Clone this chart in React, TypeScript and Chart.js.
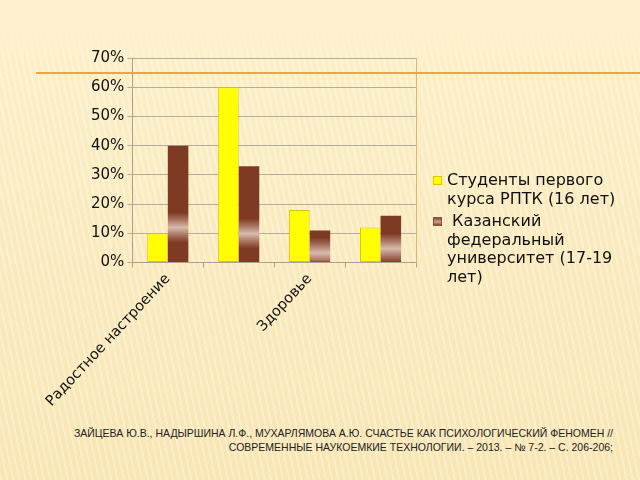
import { useEffect, useRef } from 'react'
import { Chart, registerables } from 'chart.js'

Chart.register(...registerables)

// categories: only every other label is shown on the original slide
const categories = ['Радостное настроение', '', 'Здоровье', '']
const rptkValues = [10, 60, 18, 12]
const kfuValues = [40, 33, 11, 16]
const seriesNames = ['Студенты первого курса РПТК (16 лет)', ' Казанский федеральный университет (17-19 лет)']
const legendLines = [
    ['Студенты первого', 'курса РПТК (16 лет)'],
    ['\u00a0Казанский', 'федеральный', 'университет (17-19', 'лет)'],
]
const yMax = 70
const yStep = 10
const citation = [
    'ЗАЙЦЕВА Ю.В., НАДЫРШИНА Л.Ф., МУХАРЛЯМОВА А.Ю. СЧАСТЬЕ КАК ПСИХОЛОГИЧЕСКИЙ ФЕНОМЕН //',
    'СОВРЕМЕННЫЕ НАУКОЕМКИЕ ТЕХНОЛОГИИ. – 2013. – № 7-2. – С. 206-206;',
]

const YELLOW = '#FFFF00'
const BROWN = '#7E3A23'
const FONT = 'DejaVu Sans'
const legendSwatches = [
    { fill: YELLOW, stroke: '#E2C400' },
    { fill: 'linear-gradient(to bottom, #8A4A36, #C9A293 55%, #8A4A36)', stroke: '#8A5040' },
]

// brown bars have a light band about a third of the way up
const brownFill = (ctx: any) => {
    const chart = ctx.chart
    const y = chart.scales?.y
    if (!y || ctx.type !== 'data') return BROWN
    const v = ctx.parsed ? ctx.parsed.y : ctx.raw
    const top = y.getPixelForValue(v)
    const bottom = y.getPixelForValue(0)
    const h = bottom - top
    if (!(h > 0) || !isFinite(h)) return BROWN
    const center = bottom - 0.3 * h
    const s = (p: number) => Math.min(1, Math.max(0, (p - top) / h))
    const g = chart.ctx.createLinearGradient(0, top, 0, bottom)
    g.addColorStop(0, BROWN)
    g.addColorStop(s(center - 15), BROWN)
    g.addColorStop(s(center - 7), '#AD7A68')
    g.addColorStop(s(center), '#D9BBAC')
    g.addColorStop(s(center + 7), '#AD7A68')
    g.addColorStop(s(center + 15), BROWN)
    g.addColorStop(1, BROWN)
    return g
}

const BarChart: React.FC = () => {
    const canvasRef = useRef<HTMLCanvasElement>(null)
    const chartRef = useRef<Chart | null>(null)

    useEffect(() => {
        if (!canvasRef.current) return
        if (chartRef.current) chartRef.current.destroy()

        chartRef.current = new Chart(canvasRef.current, {
            type: 'bar',
            data: {
                labels: categories,
                datasets: [
                    {
                        label: seriesNames[0],
                        data: rptkValues,
                        backgroundColor: YELLOW,
                        borderColor: '#E2C400',
                        borderWidth: 1,
                        borderSkipped: false,
                    },
                    {
                        label: seriesNames[1],
                        data: kfuValues,
                        backgroundColor: brownFill,
                        borderWidth: 0,
                    },
                ],
            },
            options: {
                animation: false,
                responsive: true,
                maintainAspectRatio: false,
                layout: { padding: { left: 88, top: 58, right: 201, bottom: 0 } },
                datasets: {
                    bar: { barPercentage: 1, categoryPercentage: 0.58 },
                },
                scales: {
                    x: {
                        grid: {
                            offset: true,
                            drawOnChartArea: false,
                            drawTicks: true,
                            tickLength: 5,
                            color: '#A8A294',
                        },
                        border: { color: '#A8A294' },
                        ticks: {
                            autoSkip: false,
                            minRotation: 47,
                            maxRotation: 47,
                            color: '#111',
                            font: { family: FONT, size: 14.5 },
                        },
                    },
                    y: {
                        min: 0,
                        max: yMax,
                        grid: { color: '#B3AD9D', tickLength: 5 },
                        border: { color: '#A8A294' },
                        ticks: {
                            stepSize: yStep,
                            color: '#111',
                            padding: 3,
                            font: { family: FONT, size: 15 },
                            callback: (v: any) => v + '%',
                        },
                    },
                    y2: {
                        position: 'right',
                        min: 0,
                        max: yMax,
                        grid: { display: false },
                        ticks: { display: false },
                        border: { color: '#E0B470' },
                    },
                },
                plugins: {
                    tooltip: { enabled: false },
                    legend: { display: false },
                },
            },
        })

        return () => {
            chartRef.current?.destroy()
        }
    }, [])

    return <canvas ref={canvasRef} />
}

export default function App() {
    return (
        <div
            style={{
                position: 'fixed',
                left: 0,
                top: 0,
                width: 640,
                height: 480,
                overflow: 'hidden',
                fontFamily: FONT,
                background:
                    'linear-gradient(to bottom, #FDF1CF 0, #FDF1CF 22px, rgba(253,241,207,0) 70px),' +
                    'repeating-linear-gradient(78deg, rgba(255,255,255,0.3) 0 2px, rgba(255,255,255,0) 2px 6px),' +
                    'linear-gradient(to bottom, #FCEFC8, #F8E6B4)',
            }}
        >
            <div style={{ position: 'absolute', left: 0, top: 0, width: 625, height: 413 }}>
                <BarChart />
            </div>
            <div
                style={{
                    position: 'absolute',
                    left: 36,
                    top: 72,
                    width: 604,
                    height: 2,
                    background: '#E9A444',
                }}
            />
            <div
                style={{
                    position: 'absolute',
                    left: 433,
                    top: 171,
                    fontSize: 16,
                    lineHeight: '18.5px',
                    color: '#111',
                }}
            >
                {legendLines.map((lines, i) => (
                    <div key={i} style={{ position: 'relative', paddingLeft: 14, marginBottom: 4 }}>
                        <span
                            style={{
                                position: 'absolute',
                                left: 0,
                                top: 5,
                                width: 7,
                                height: 7,
                                background: legendSwatches[i].fill,
                                border: '1px solid ' + legendSwatches[i].stroke,
                            }}
                        />
                        {lines.map((t, j) => (
                            <div key={j} style={{ whiteSpace: 'nowrap' }}>
                                {t}
                            </div>
                        ))}
                    </div>
                ))}
            </div>
            <div
                style={{
                    position: 'absolute',
                    right: 27,
                    top: 426,
                    textAlign: 'right',
                    fontFamily: 'Liberation Sans',
                    fontSize: 10.5,
                    lineHeight: '14px',
                    color: '#222',
                    whiteSpace: 'nowrap',
                }}
            >
                {citation[0]}
                <br />
                {citation[1]}
            </div>
        </div>
    )
}
